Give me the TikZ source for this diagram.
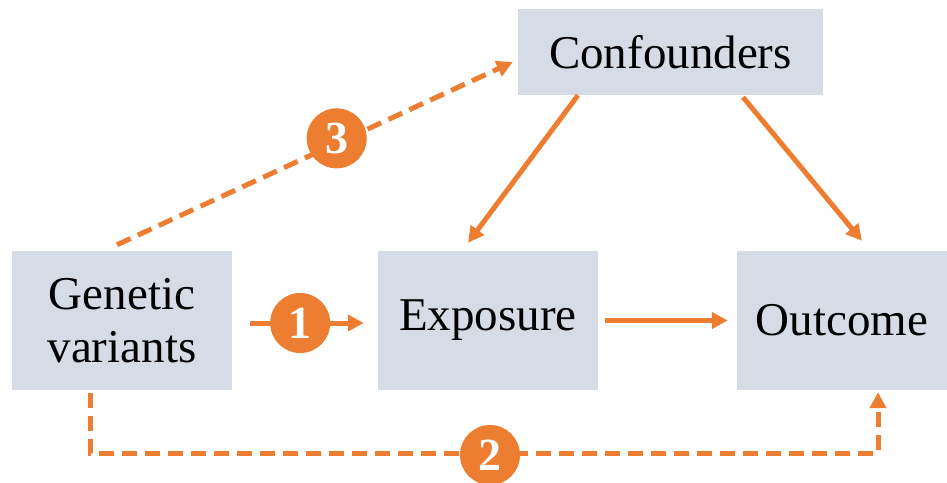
\documentclass[tikz,border=0pt]{standalone}
\usepackage{fontspec}
\setmainfont{Liberation Serif}
\usetikzlibrary{arrows.meta,calc}
\definecolor{boxgray}{HTML}{D6DCE5}
\definecolor{accent}{HTML}{ED7D31}
\begin{document}
\begin{tikzpicture}[x=1pt,y=-1pt,
  box/.style={fill=boxgray,draw=none,inner sep=0pt,align=center,
    font=\fontsize{47}{53}\selectfont},
  link/.style={draw=accent,line width=5pt,
    -{Triangle[length=16pt,width=16pt]}},
  dashlink/.style={link,dash pattern=on 15pt off 8pt},
  numcirc/.style={circle,fill=accent,draw=none,minimum size=60pt,inner sep=0pt,
    text=white,font=\fontsize{46}{46}\selectfont\bfseries}]
  \useasboundingbox (0,0) rectangle (947,482);

  % boxes
  \node[box,minimum width=220pt,minimum height=139pt] (gv) at (122,320.5) {Genetic\\variants};
  \node[box,minimum width=220pt,minimum height=139pt] (exp) at (488,320.5) {Exposure};
  \node[box,minimum width=210pt,minimum height=139pt] (out) at (842,320.5) {Outcome};
  \node[box,minimum width=305pt,minimum height=86pt] (conf) at (670.5,52) {Confounders};

  % solid arrows
  \draw[link] ([xshift=18pt,yshift=-2.5pt]gv.east) -- ([xshift=-14pt,yshift=-2.5pt]exp.west)
    node[numcirc,pos=0.44] (n1) {1};
  \draw[link] ([xshift=7pt]exp.east) -- ([xshift=-9pt]out.west);
  \draw[link] ([xshift=-92.5pt]conf.south) -- ([xshift=-20pt,yshift=8pt]exp.north);
  \draw[link] ([xshift=72.5pt,yshift=-2pt]conf.south) -- ([xshift=20pt,yshift=10pt]out.north);

  % dashed paths
  \draw[dashlink] ([xshift=-5pt,yshift=6pt]gv.north) -- ([xshift=-5pt,yshift=-10pt]conf.west)
    node[numcirc,pos=0.555,yshift=5pt] (n3) {3};
  \draw[dashlink] ([xshift=-32pt,yshift=-3pt]gv.south) -- ++(0,60)
    -| ([xshift=36pt,yshift=-2pt]out.south);
  \node[numcirc] (n2) at (490,455) {2};
\end{tikzpicture}
\end{document}
